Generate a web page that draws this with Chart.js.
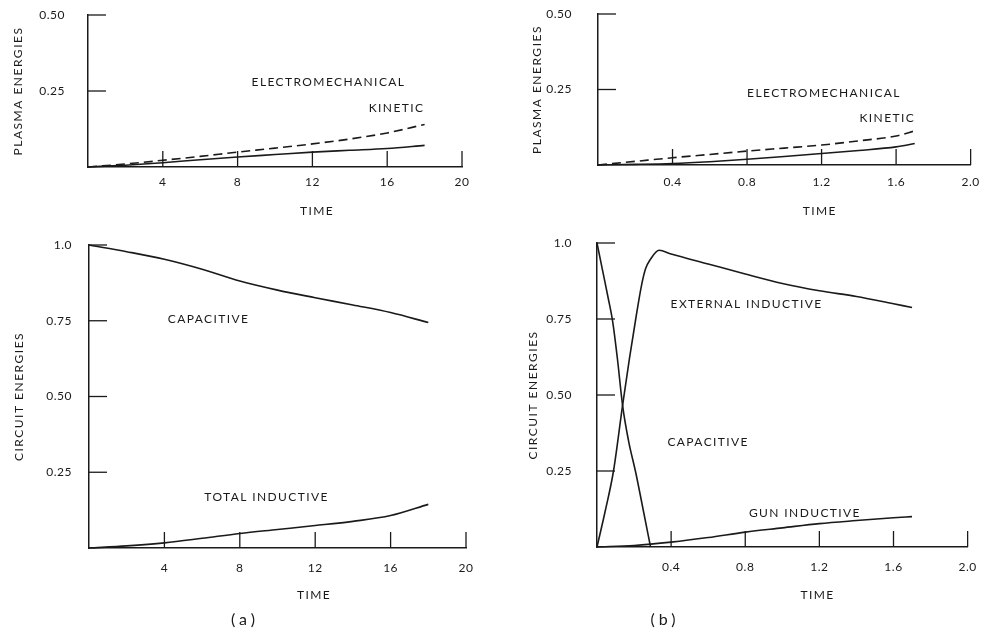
<!DOCTYPE html>
<html>
<head>
<meta charset="utf-8">
<title>Plasma and circuit energies</title>
<script src="https://cdn.jsdelivr.net/npm/chart.js@4.4.1/dist/chart.umd.min.js"></script>
<style>
  html, body { margin: 0; padding: 0; background: #fff; }
  body { position: relative; width: 989px; height: 639px; overflow: hidden; font-family: Lato, "DejaVu Sans", sans-serif; color: #1a1a1a; }
  canvas { position: absolute; }
  .tag { position: absolute; font-size: 16px; letter-spacing: 4px; transform: translate(-50%, -50%); }
</style>
</head>
<body>
<canvas id="plasmaA" style="left:0;top:0" width="490" height="220"></canvas>
<canvas id="plasmaB" style="left:500px;top:0" width="489" height="220"></canvas>
<canvas id="circuitA" style="left:0;top:225px" width="490" height="414"></canvas>
<canvas id="circuitB" style="left:500px;top:225px" width="489" height="414"></canvas>
<div class="tag" style="left:245px;top:618px">(a)</div>
<div class="tag" style="left:665px;top:618px">(b)</div>

<script>
// --- data ---
// (a) plasma energies, time 0..18
const timeA = [0, 2, 4, 6, 8, 10, 12, 14, 16, 18];
const electroA = [0, 0.010, 0.022, 0.035, 0.049, 0.062, 0.076, 0.092, 0.112, 0.140];
const kineticA = [0, 0.006, 0.014, 0.024, 0.033, 0.041, 0.049, 0.055, 0.061, 0.071];

// (b) plasma energies, time 0..1.7
const timeB = [0, 0.2, 0.4, 0.6, 0.8, 1.0, 1.2, 1.4, 1.6, 1.7];
const electroB = [0, 0.012, 0.024, 0.035, 0.046, 0.056, 0.066, 0.080, 0.096, 0.113];
const kineticB = [0, 0.002, 0.005, 0.011, 0.019, 0.028, 0.038, 0.048, 0.060, 0.071];

// (a) circuit energies
const capacitiveA = [1.0, 0.978, 0.953, 0.920, 0.881, 0.851, 0.826, 0.802, 0.777, 0.744];
const totalIndA = [0, 0.007, 0.017, 0.032, 0.048, 0.061, 0.074, 0.088, 0.107, 0.144];

// (b) circuit energies
const capTimeB = [0, 0.03, 0.06, 0.085, 0.11, 0.138, 0.17, 0.209, 0.25, 0.289];
const capacitiveB = [1.0, 0.91, 0.82, 0.74, 0.62, 0.466, 0.35, 0.245, 0.12, 0];
const extTimeB = [0, 0.045, 0.089, 0.138, 0.175, 0.209, 0.24, 0.262, 0.289, 0.335, 0.4, 0.6, 0.8, 1.0, 1.2, 1.4, 1.6, 1.7];
const externalIndB = [0, 0.12, 0.25, 0.466, 0.62, 0.75, 0.86, 0.915, 0.947, 0.976, 0.964, 0.931, 0.898, 0.867, 0.843, 0.824, 0.800, 0.788];
const gunIndB = [0, 0.005, 0.016, 0.031, 0.049, 0.063, 0.077, 0.087, 0.096, 0.100];

// tick labels
const timeTicksA = [4, 8, 12, 16, 20];
const timeTicksB = [0.4, 0.8, 1.2, 1.6, 2.0];
const plasmaTicks = [0.25, 0.50];
const circuitTicks = [0.25, 0.50, 0.75, 1.0];

const INK = "#1a1a1a";
const FONT = "Lato, 'DejaVu Sans', sans-serif";

function pts(xs, ys) {
  return xs.map((x, i) => ({ x, y: ys[i] }));
}

function curve(xs, ys, dashed) {
  return {
    data: pts(xs, ys),
    borderColor: INK,
    borderWidth: 1.6,
    borderDash: dashed ? [9, 5] : [],
    pointRadius: 0,
    cubicInterpolationMode: "monotone",
    clip: false
  };
}

// short tick marks drawn inward from the axes
function innerTicks(len) {
  return {
    id: "innerTicks",
    afterDraw(chart) {
      const { ctx, scales: { x, y } } = chart;
      ctx.save();
      ctx.strokeStyle = INK;
      ctx.lineWidth = 1.3;
      x.ticks.forEach(t => {
        const px = x.getPixelForValue(t.value);
        ctx.beginPath();
        ctx.moveTo(px, y.bottom);
        ctx.lineTo(px, y.bottom - len.x);
        ctx.stroke();
      });
      y.ticks.forEach(t => {
        const py = y.getPixelForValue(t.value);
        ctx.beginPath();
        ctx.moveTo(x.left, py);
        ctx.lineTo(x.left + len.y, py);
        ctx.stroke();
      });
      ctx.restore();
    }
  };
}

// curve names and the TIME caption, placed in data units
function notes(items) {
  return {
    id: "notes",
    // axis titles are drawn before the datasets, tick labels (z: 1) after them
    beforeDraw(chart) { chart.ctx.letterSpacing = "1.5px"; },
    afterDatasetsDraw(chart) { chart.ctx.letterSpacing = "0.5px"; },
    afterDraw(chart) {
      const { ctx, scales: { x, y } } = chart;
      ctx.save();
      ctx.fillStyle = INK;
      ctx.font = "12px " + FONT;
      ctx.letterSpacing = "1.4px";
      ctx.textAlign = "center";
      ctx.textBaseline = "middle";
      items.forEach(n => ctx.fillText(n.text, x.getPixelForValue(n.x), y.getPixelForValue(n.y)));
      ctx.restore();
    }
  };
}

function panel(id, cfg) {
  return new Chart(document.getElementById(id), {
    type: "line",
    data: { datasets: cfg.datasets },
    options: {
      responsive: false,
      animation: false,
      events: [],
      layout: { padding: { top: cfg.top, right: cfg.right, left: 0, bottom: 0 } },
      plugins: { legend: { display: false }, tooltip: { enabled: false } },
      scales: {
        x: {
          type: "linear",
          min: 0,
          max: cfg.xTicks[cfg.xTicks.length - 1],
          border: { color: INK, width: 1.5 },
          grid: { display: false, drawTicks: false },
          ticks: {
            z: 1,
            color: INK,
            font: { family: FONT, size: 12 },
            padding: cfg.xPad,
            callback: v => cfg.xFmt(v)
          },
          afterBuildTicks: s => { s.ticks = cfg.xTicks.map(v => ({ value: v })); },
          afterFit: s => { s.height = cfg.xHeight; }
        },
        y: {
          min: 0,
          max: cfg.yTicks[cfg.yTicks.length - 1],
          border: { color: INK, width: 1.5 },
          // tickLength only sets the gap to the labels (grid itself hidden)
          grid: { display: false, drawTicks: true, tickLength: cfg.yPad },
          title: {
            display: true,
            text: cfg.yTitle,
            color: INK,
            font: { family: FONT, size: 12 },
            padding: { top: cfg.titlePad, bottom: 0 }
          },
          ticks: {
            z: 1,
            color: INK,
            font: { family: FONT, size: 12 },
            padding: 0,
            callback: v => (v === 1 ? "1.0" : v.toFixed(2))
          },
          afterBuildTicks: s => { s.ticks = cfg.yTicks.map(v => ({ value: v })); },
          afterFit: s => { s.width = cfg.yWidth; }
        }
      }
    },
    plugins: [innerTicks({ x: 16, y: 18 }), notes(cfg.notes)]
  });
}

const fmtA = v => String(v);
const fmtB = v => v.toFixed(1);

panel("plasmaA", {
  datasets: [curve(timeA, electroA, true), curve(timeA, kineticA, false)],
  xTicks: timeTicksA, yTicks: plasmaTicks, xFmt: fmtA,
  yTitle: "PLASMA ENERGIES",
  top: 15, right: 28, yWidth: 88, xHeight: 53, xPad: 8, yPad: 23, titlePad: 11,
  notes: [
    { text: "ELECTROMECHANICAL", x: 12.86, y: 0.28 },
    { text: "KINETIC", x: 16.5, y: 0.194 },
    { text: "TIME", x: 12.25, y: -0.145 }
  ]
});

panel("plasmaB", {
  datasets: [curve(timeB, electroB, true), curve(timeB, kineticB, false)],
  xTicks: timeTicksB, yTicks: plasmaTicks, xFmt: fmtB,
  yTitle: "PLASMA ENERGIES",
  top: 14, right: 15, yWidth: 98, xHeight: 55, xPad: 10, yPad: 26, titlePad: 30,
  notes: [
    { text: "ELECTROMECHANICAL", x: 1.213, y: 0.238 },
    { text: "KINETIC", x: 1.553, y: 0.156 },
    { text: "TIME", x: 1.19, y: -0.152 }
  ]
});

panel("circuitA", {
  datasets: [curve(timeA, capacitiveA, false), curve(timeA, totalIndA, false)],
  xTicks: timeTicksA, yTicks: circuitTicks, xFmt: fmtA,
  yTitle: "CIRCUIT ENERGIES",
  top: 20, right: 24, yWidth: 89, xHeight: 91, xPad: 13, yPad: 17, titlePad: 12,
  notes: [
    { text: "CAPACITIVE", x: 6.34, y: 0.756 },
    { text: "TOTAL INDUCTIVE", x: 9.42, y: 0.168 },
    { text: "TIME", x: 11.94, y: -0.155 }
  ]
});

panel("circuitB", {
  datasets: [
    curve(capTimeB, capacitiveB, false),
    curve(extTimeB, externalIndB, false),
    curve(timeB, gunIndB, false)
  ],
  xTicks: timeTicksB, yTicks: circuitTicks, xFmt: fmtB,
  yTitle: "CIRCUIT ENERGIES",
  top: 18, right: 14, yWidth: 97, xHeight: 92, xPad: 13, yPad: 25, titlePad: 26,
  notes: [
    { text: "EXTERNAL INDUCTIVE", x: 0.807, y: 0.799 },
    { text: "CAPACITIVE", x: 0.6, y: 0.345 },
    { text: "GUN INDUCTIVE", x: 1.122, y: 0.112 },
    { text: "TIME", x: 1.19, y: -0.158 }
  ]
});
</script>
</body>
</html>
